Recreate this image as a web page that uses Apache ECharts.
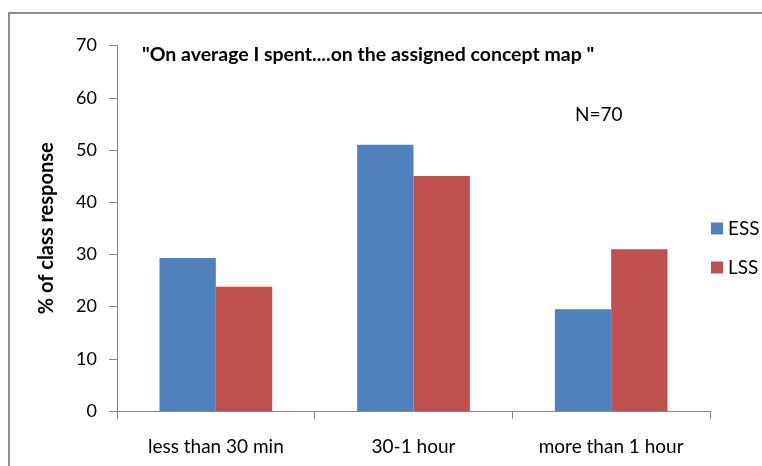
<!DOCTYPE html>
<html>
<head>
<meta charset="utf-8">
<script src="https://cdn.jsdelivr.net/npm/echarts@6/dist/echarts.min.js"></script>
<style>
  html, body { margin: 0; padding: 0; background: #fff; }
  #chart { width: 762px; height: 466px; }
</style>
</head>
<body>
<div id="chart"></div>
<script>
const categories = ['less than 30 min', '30-1 hour', 'more than 1 hour'];
const essValues = [29.3, 51, 19.5];
const lssValues = [23.8, 45, 31];
const seriesNames = ['ESS', 'LSS'];
const titleText = '"On average I spent....on the assigned concept map "';
const noteText = 'N=70';

const font = 'Lato, "Open Sans", sans-serif';
const chart = echarts.init(document.getElementById('chart'));

chart.setOption({
  animation: false,
  textStyle: { fontFamily: font },
  graphic: [
    {
      type: 'rect',
      shape: { x: 9, y: 13, width: 800, height: 500 },
      style: { fill: 'none', stroke: '#8c8c8c', lineWidth: 2 },
      silent: true
    },
    {
      type: 'text', left: 142, top: 45,
      style: { text: titleText, font: 'bold 19.5px ' + font, fill: '#000' }
    },
    {
      type: 'text', left: 575, top: 105,
      style: { text: noteText, font: '19px ' + font, fill: '#000' }
    }
  ],
  legend: {
    orient: 'vertical',
    left: 706,
    top: 214,
    itemWidth: 12,
    itemHeight: 12,
    itemGap: 20,
    icon: 'rect',
    textStyle: { fontSize: 19, color: '#000', fontFamily: font },
    data: seriesNames
  },
  grid: { left: 117, right: 52, top: 45.6, bottom: 55 },
  xAxis: {
    type: 'category',
    data: categories,
    axisLine: { lineStyle: { color: '#868686', width: 1 } },
    axisTick: { show: true, alignWithLabel: false, length: 8, lineStyle: { color: '#868686' } },
    axisLabel: { fontSize: 19, color: '#000', margin: 26 }
  },
  yAxis: {
    type: 'value',
    min: 0, max: 70, interval: 10,
    name: '% of class response',
    nameLocation: 'middle',
    nameGap: 60,
    nameRotate: 90,
    nameTextStyle: { fontSize: 20, fontWeight: 'bold', color: '#000' },
    axisLine: { show: true, lineStyle: { color: '#868686' } },
    axisTick: { show: true, length: 8, lineStyle: { color: '#868686' } },
    axisLabel: { fontSize: 18, color: '#000', margin: 20 },
    splitLine: { show: false }
  },
  series: [
    {
      name: seriesNames[0], type: 'bar', data: essValues,
      barGap: '0%', barCategoryGap: '43%',
      itemStyle: { color: '#4f81bd' }
    },
    {
      name: seriesNames[1], type: 'bar', data: lssValues,
      barGap: '0%', barCategoryGap: '43%',
      itemStyle: { color: '#c0504d' }
    }
  ]
});
</script>
</body>
</html>
